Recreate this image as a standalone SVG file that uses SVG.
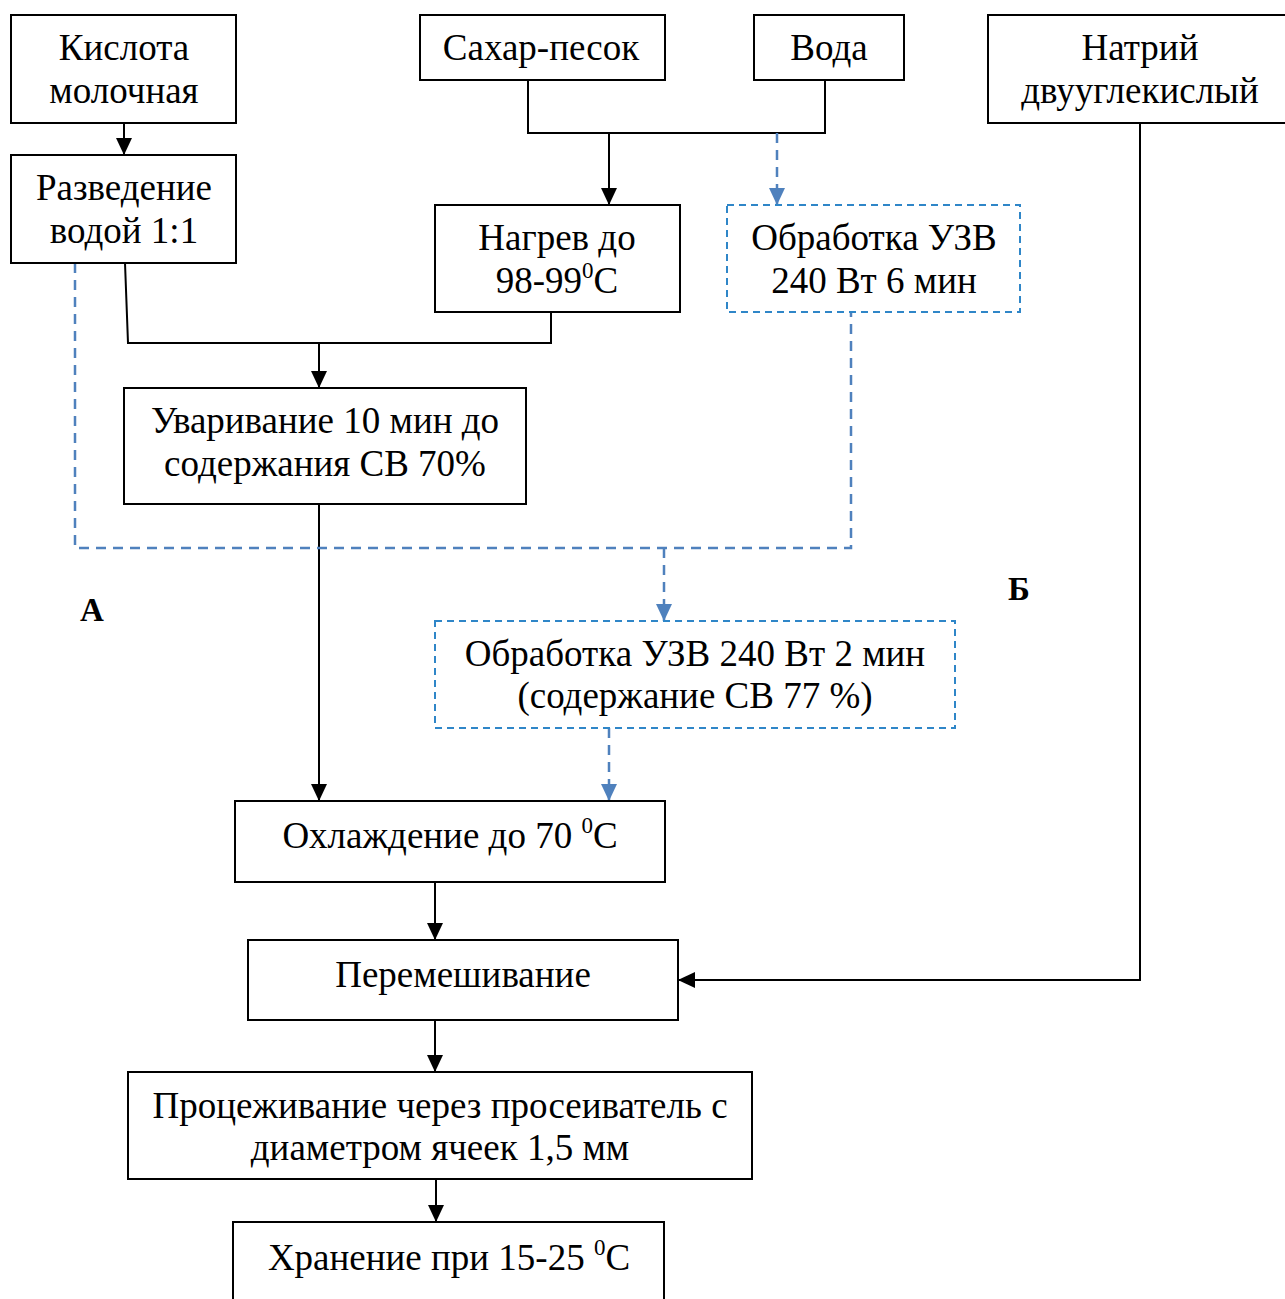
<svg xmlns="http://www.w3.org/2000/svg" width="1285" height="1299" viewBox="0 0 1285 1299">
<defs>
<style>
.b{fill:#fff;stroke:#000;stroke-width:2}
.d{fill:#fff;stroke:#2f86c8;stroke-width:2;stroke-dasharray:7,5}
.t{font-family:"Liberation Serif","Times New Roman",serif;font-size:37px;fill:#000;text-anchor:middle}
.l{font-family:"Liberation Serif","Times New Roman",serif;font-size:33px;font-weight:bold;fill:#000;text-anchor:middle}
.c{fill:none;stroke:#000;stroke-width:2}
.cd{fill:none;stroke:#4f81bd;stroke-width:2.5;stroke-dasharray:10,7}
</style>
<marker id="ak" markerWidth="16" markerHeight="18" refX="17" refY="9" orient="auto" markerUnits="userSpaceOnUse"><path d="M0,1 L17,9 L0,17 z" fill="#000"/></marker>
<marker id="ab" markerWidth="16" markerHeight="18" refX="17" refY="9" orient="auto" markerUnits="userSpaceOnUse"><path d="M0,1 L17,9 L0,17 z" fill="#4f81bd"/></marker>
</defs>
<g id="connectors">
<path class="c" d="M124,123 V155" marker-end="url(#ak)"/>
<path class="c" d="M528,80 V133 H825 V80"/>
<path class="c" d="M609,133 V205" marker-end="url(#ak)"/>
<path class="cd" d="M777,133 V205" marker-end="url(#ab)"/>
<path class="c" d="M125,263 L128,343 H551 V312"/>
<path class="c" d="M319,343 V388" marker-end="url(#ak)"/>
<path class="c" d="M319,504 V801" marker-end="url(#ak)"/>
<path class="cd" d="M75,263 V548 H851 V312"/>
<path class="cd" d="M664,548 V621" marker-end="url(#ab)"/>
<path class="cd" d="M609,728 V801" marker-end="url(#ab)"/>
<path class="c" d="M435,882 V940" marker-end="url(#ak)"/>
<path class="c" d="M1140,123 V980 H678" marker-end="url(#ak)"/>
<path class="c" d="M435,1020 V1072" marker-end="url(#ak)"/>
<path class="c" d="M436,1179 V1222" marker-end="url(#ak)"/>
</g>
<g id="n1"><rect class="b" x="11" y="15" width="225" height="108"/><text class="t" x="124" y="60">Кислота</text><text class="t" x="124" y="103">молочная</text></g>
<g id="n2"><rect class="b" x="11" y="155" width="225" height="108"/><text class="t" x="124" y="200">Разведение</text><text class="t" x="124" y="243">водой 1:1</text></g>
<g id="n3"><rect class="b" x="420" y="15" width="245" height="65"/><text class="t" x="541" y="60">Сахар-песок</text></g>
<g id="n4"><rect class="b" x="754" y="15" width="150" height="65"/><text class="t" x="829" y="60">Вода</text></g>
<g id="n5"><rect class="b" x="988" y="15" width="300" height="108"/><text class="t" x="1140" y="60">Натрий</text><text class="t" x="1140" y="103">двууглекислый</text></g>
<g id="n6"><rect class="b" x="435" y="205" width="245" height="107"/><text class="t" x="557" y="250">Нагрев до</text><text class="t" x="557" y="293">98-99<tspan font-size="23" dy="-15">0</tspan><tspan dy="15">С</tspan></text></g>
<g id="n7"><rect class="d" x="727" y="205" width="293" height="107"/><text class="t" x="874" y="250">Обработка УЗВ</text><text class="t" x="874" y="293">240 Вт 6 мин</text></g>
<g id="n8"><rect class="b" x="124" y="388" width="402" height="116"/><text class="t" x="325" y="433">Уваривание 10 мин до</text><text class="t" x="325" y="476">содержания СВ 70%</text></g>
<g id="n9"><rect class="d" x="435" y="621" width="520" height="107"/><text class="t" x="695" y="666">Обработка УЗВ 240 Вт 2 мин</text><text class="t" x="695" y="708">(содержание СВ 77 %)</text></g>
<g id="n10"><rect class="b" x="235" y="801" width="430" height="81"/><text class="t" x="450" y="848">Охлаждение до 70 <tspan font-size="23" dy="-15">0</tspan><tspan dy="15">С</tspan></text></g>
<g id="n11"><rect class="b" x="248" y="940" width="430" height="80"/><text class="t" x="463" y="987">Перемешивание</text></g>
<g id="n12"><rect class="b" x="128" y="1072" width="624" height="107"/><text class="t" x="440" y="1118">Процеживание через просеиватель с</text><text class="t" x="440" y="1160">диаметром ячеек 1,5 мм</text></g>
<g id="n13"><rect class="b" x="233" y="1222" width="431" height="90"/><text class="t" x="449" y="1270">Хранение при 15-25 <tspan font-size="23" dy="-15">0</tspan><tspan dy="15">С</tspan></text></g>
<text class="l" x="92" y="621">А</text>
<text class="l" x="1019" y="600">Б</text>
</svg>
